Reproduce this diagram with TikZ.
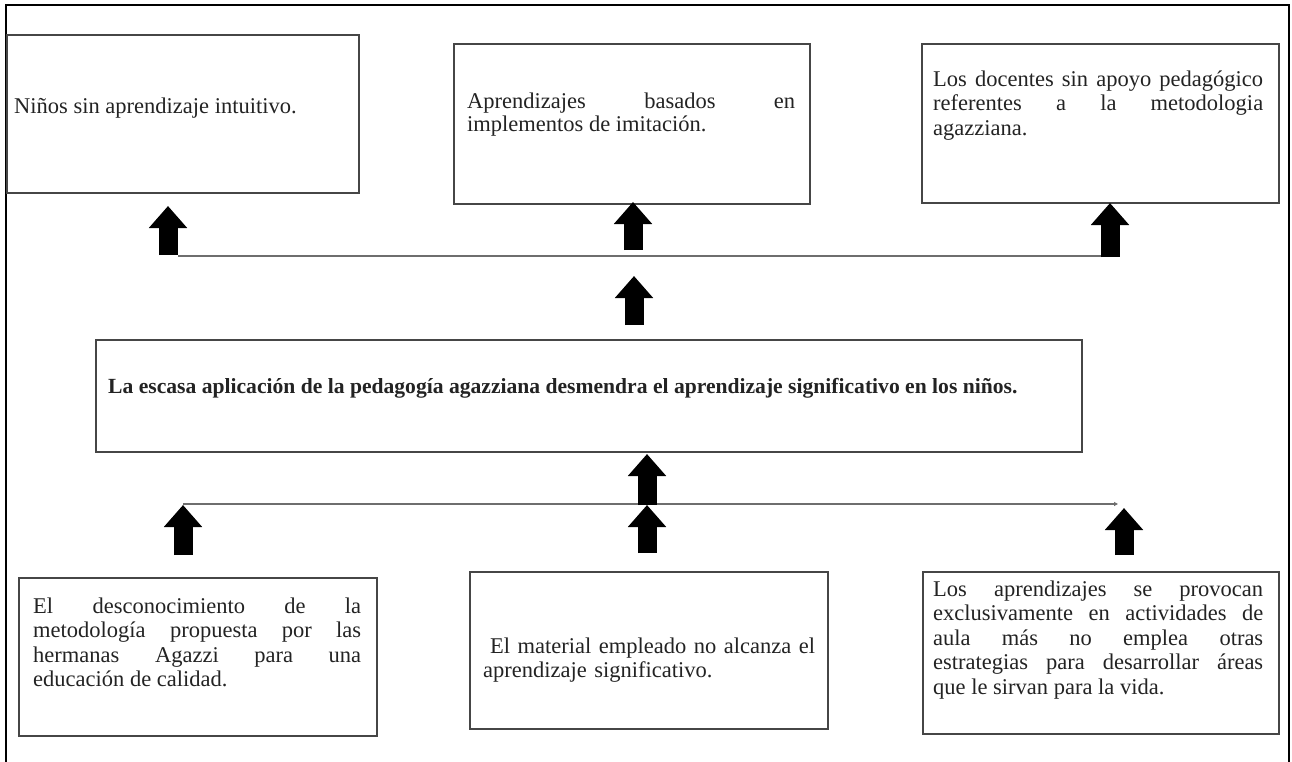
\documentclass[tikz,border=0pt]{standalone}
\usepackage{fontspec}
\setmainfont{Liberation Serif}
\usetikzlibrary{arrows.meta}
\definecolor{boxgray}{RGB}{70,70,70}
\definecolor{txtcol}{RGB}{35,35,35}
\definecolor{linegray}{RGB}{110,110,110}
\tikzset{
  boxnode/.style={draw=boxgray, line width=1.8pt, inner sep=0pt, anchor=north west},
  txtnode/.style={inner sep=0pt, anchor=north west, text=txtcol, align=justify,
    font=\fontsize{22.5}{24.5}\selectfont},
  fatarrow/.style={black, line width=19pt, -{Triangle[length=22pt,width=37pt]}},
  hconn/.style={draw=linegray, line width=1.5pt},
}
\begin{document}
\begin{tikzpicture}[x=1pt,y=-1pt]
\useasboundingbox (0,0) rectangle (1292,762);
\fill[white] (0,0) rectangle (1292,762);
% outer frame
\draw[black, line width=2.2pt] (6,762) -- (6,5) -- (1289,5) -- (1289,762);

% boxes
\node[boxnode, minimum width=352pt, minimum height=158pt] (b1) at (6,34) {};
\node[boxnode, minimum width=356pt, minimum height=160pt] (b2) at (453,43) {};
\node[boxnode, minimum width=357pt, minimum height=159pt] (b3) at (921,43) {};
\node[boxnode, minimum width=986pt, minimum height=112pt] (bc) at (95,339) {};
\node[boxnode, minimum width=358pt, minimum height=158pt] (b4) at (18,577) {};
\node[boxnode, minimum width=358pt, minimum height=157pt] (b5) at (469,571) {};
\node[boxnode, minimum width=356pt, minimum height=162pt] (b6) at (922,571) {};

% texts
\node[txtnode, align=left] (t1) at (14,95.85) {\strut Niños sin aprendizaje intuitivo.};
\node[txtnode, text width=328pt, font=\fontsize{22.5}{21}\selectfont] (t2) at (467,92.3)
  {\strut Aprendizajes basados en\linebreak implementos de imitación.};
\node[txtnode, text width=330pt] (t3) at (933,68.85)
  {\strut Los docentes sin apoyo pedagógico\linebreak referentes a la metodologia\linebreak agazziana.};
\node[inner sep=0pt, anchor=base west, text=txtcol, font=\fontsize{21.6}{24}\selectfont\bfseries] (tc) at (108,393.5)
  {La escasa aplicación de la pedagogía agazziana desmendra el aprendizaje significativo en los niños.};
\node[txtnode, text width=328pt] (t4) at (33,595.85)
  {\strut El desconocimiento de la\linebreak metodología propuesta por las\linebreak hermanas Agazzi para una\linebreak educación de calidad.};
\node[txtnode, text width=340pt, align=left] (t5) at (483,635.85)
  {\strut\hspace*{7pt}El material empleado no alcanza el\\ aprendizaje significativo.};
\node[txtnode, text width=330pt] (t6) at (933,578.85)
  {\strut Los aprendizajes se provocan\linebreak exclusivamente en actividades de\linebreak aula más no emplea otras\linebreak estrategias para desarrollar áreas\linebreak que le sirvan para la vida.};

% connector coordinates
\coordinate (hl) at (178,256);
\coordinate (hr) at (1113,256);
\coordinate (bl) at (183,504);
\coordinate (br) at (1118,504);

\coordinate (a1s) at (168,255); \coordinate (a1t) at (168,206);
\coordinate (a2s) at (633,250); \coordinate (a2t) at (633,202);
\coordinate (a3s) at (1110,257); \coordinate (a3t) at (1110,203);
\coordinate (a4s) at (634,325); \coordinate (a4t) at (634,276);
\coordinate (a5s) at (647,505); \coordinate (a5t) at (647,454);
\coordinate (a6s) at (183,555); \coordinate (a6t) at (183,505);
\coordinate (a7s) at (647,553); \coordinate (a7t) at (647,505);
\coordinate (a8s) at (1124,555); \coordinate (a8t) at (1124,508);

% horizontal connectors
\draw[hconn] (hl) -- (hr);
\draw[hconn, -{Triangle[length=4pt,width=4pt]}] (bl) -- (br);

% fat arrows
\draw[fatarrow] (a1s) -- (a1t);
\draw[fatarrow] (a2s) -- (a2t);
\draw[fatarrow] (a3s) -- (a3t);
\draw[fatarrow] (a4s) -- (a4t);
\draw[fatarrow] (a5s) -- (a5t);
\draw[fatarrow] (a6s) -- (a6t);
\draw[fatarrow] (a7s) -- (a7t);
\draw[fatarrow] (a8s) -- (a8t);
\end{tikzpicture}
\end{document}
